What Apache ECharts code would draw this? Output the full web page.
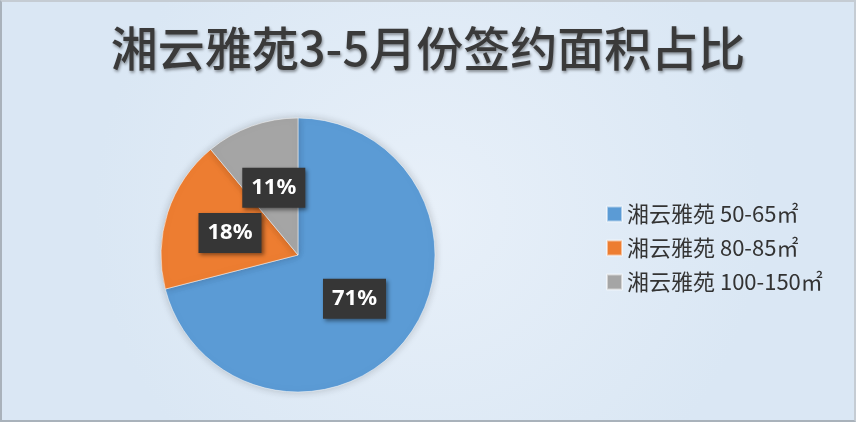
<!DOCTYPE html>
<html><head><meta charset="utf-8">
<script src="https://cdn.jsdelivr.net/npm/echarts@6/dist/echarts.min.js"></script>
<style>html,body{margin:0;padding:0;background:#dfeaf6}#c{width:856px;height:422px;box-sizing:border-box;border:2px solid #a9b2bb;border-top-color:#c5ccd3;border-right-color:#c5ccd3}</style>
</head><body><div id="c"></div>
<script>
const titleText = '湘云雅苑3-5月份签约面积占比';
const categories = ['湘云雅苑 50-65㎡', '湘云雅苑 80-85㎡', '湘云雅苑 100-150㎡'];
const values = [71, 18, 11];
const colors = ['#5b9bd5', '#ed7d31', '#a5a5a5'];

const chart = echarts.init(document.getElementById('c'));
chart.setOption({
  backgroundColor: {
    type: 'radial', x: 0.5, y: 0.5, r: 0.8,
    colorStops: [{offset: 0, color: '#e8f0f9'}, {offset: 1, color: '#dae7f4'}]
  },
  color: colors,
  title: {
    text: titleText, left: 'center', top: 18,
    textStyle: {
      fontFamily: 'Noto Sans CJK SC', fontSize: 47, fontWeight: 500, color: '#3a3a3a',
      textShadowColor: 'rgba(0,0,0,0.4)', textShadowBlur: 3, textShadowOffsetX: 1, textShadowOffsetY: 2
    }
  },
  legend: {
    orient: 'vertical', left: 599, top: 196, itemGap: 12,
    itemWidth: 15, itemHeight: 15, icon: 'rect',
    textStyle: {fontFamily: 'Noto Sans CJK SC', fontSize: 22, color: '#333'},
    data: categories
  },
  series: [{
    type: 'pie', center: [296, 253], radius: 137, startAngle: 90, clockwise: true,
    itemStyle: {borderColor: 'rgba(255,255,255,0.5)', borderWidth: 1,
      shadowColor: 'rgba(0,0,0,0.2)', shadowBlur: 8},
    label: {
      position: 'inside', formatter: '{d}%',
      fontFamily: 'Noto Sans', fontSize: 22, fontWeight: 'bold', color: '#fff',
      backgroundColor: '#363636', padding: [10, 9, 8, 9],
      shadowColor: 'rgba(0,0,0,0.45)', shadowBlur: 4, shadowOffsetX: 2, shadowOffsetY: 2
    },
    labelLine: {show: false},
    emphasis: {disabled: true},
    data: categories.map((n, i) => ({name: n, value: values[i]}))
  }]
});
</script></body></html>
